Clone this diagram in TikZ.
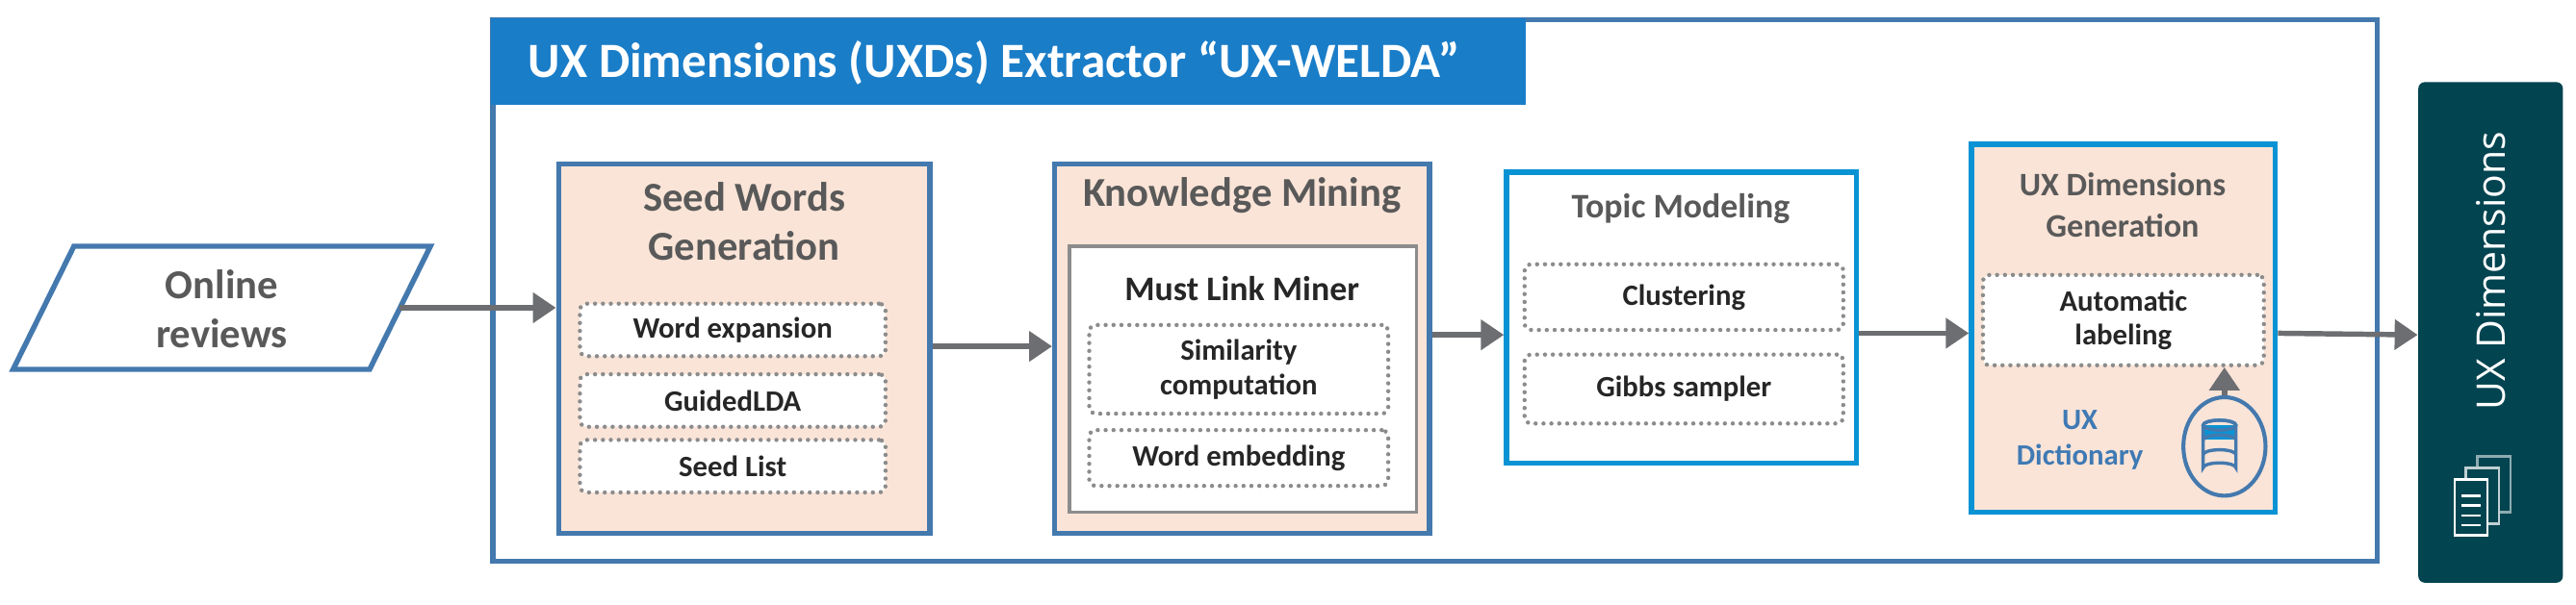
\documentclass[tikz,border=0pt]{standalone}
\usepackage{fontspec}
\setmainfont{Carlito}
\newfontfamily\osans{Open Sans}
\usetikzlibrary{arrows.meta,calc,shapes.geometric}
\definecolor{steel}{HTML}{4479AE}
\definecolor{bblue}{HTML}{0A93D4}
\definecolor{tbar}{HTML}{1A7DC8}
\definecolor{peach}{HTML}{FAE4D7}
\definecolor{agrey}{HTML}{6D6E71}
\definecolor{dgrey}{HTML}{8C8C8C}
\definecolor{ttext}{HTML}{595959}
\definecolor{itext}{HTML}{262626}
\definecolor{teal}{HTML}{024450}
\definecolor{dictblue}{HTML}{3F7AB4}
\tikzset{
  stage/.style={draw=steel,line width=1.6pt,fill=peach,inner sep=0pt},
  bstage/.style={draw=bblue,line width=1.6pt,inner sep=0pt},
  dot/.style={draw=dgrey,line width=1.3pt,line cap=round,dash pattern=on 0pt off 2.4pt,fill=white,rounded corners=2pt,inner sep=0pt,font=\bfseries\fontsize{9}{10.5}\selectfont,text=itext,align=center},
  ttl/.style={font=\bfseries\fontsize{12.5}{15}\selectfont,text=ttext,align=center},
  arr/.style={draw=agrey,line width=1.6pt,-{Triangle[length=7pt,width=9pt]}},
}
\begin{document}
\begin{tikzpicture}[x=0.5pt,y=-0.5pt]
\useasboundingbox (0,0) rectangle (1568,368);
% outer box
\node[draw=steel,line width=1.5pt,minimum width=573.5pt,minimum height=165pt,inner sep=0pt] (outer) at (873.5,177) {};
\node[fill=tbar,minimum width=315pt,minimum height=26.5pt,inner sep=0pt,anchor=north west] (bar) at (outer.north west) {};
\node[anchor=west,text=white,font=\bfseries\fontsize{15}{17}\selectfont] (bartext) at ($(bar.west)+(16,1)$) {UX Dimensions (UXDs) Extractor “UX-WELDA”};
% online reviews
\draw[steel,line width=1.6pt] (45,150) -- (262,150) -- (225,225) -- (8,225) -- cycle;
\node[font=\bfseries\fontsize{12.5}{15}\selectfont,text=ttext,align=center] (rev) at (135,188) {Online\\reviews};
\coordinate (revout) at (243,187.5);
% seed words
\node[stage,minimum width=113pt,minimum height=112.5pt] (seed) at (453,212.5) {};
\node[ttl] (seedt) at (453,135) {Seed Words\\Generation};
\node[dot,minimum width=93pt,minimum height=16pt] (we) at (446,201) {Word expansion};
\node[dot,minimum width=93pt,minimum height=16pt] (glda) at (446,244) {GuidedLDA};
\node[dot,minimum width=93pt,minimum height=16pt] (sl) at (446,284) {Seed List};
% knowledge mining
\node[stage,minimum width=114pt,minimum height=112.5pt] (km) at (756,212.5) {};
\node[ttl] (kmt) at (756,119) {Knowledge Mining};
\node[draw=dgrey,line width=0.9pt,fill=white,minimum width=105.5pt,minimum height=81pt,inner sep=0pt] (mlm) at (756.5,231) {};
\node[font=\bfseries\fontsize{10.5}{12}\selectfont,text=itext] (mlmt) at (756,176) {Must Link Miner};
\node[dot,minimum width=91pt,minimum height=27pt] (sim) at (754,225) {Similarity\\computation};
\node[dot,minimum width=91pt,minimum height=17pt] (emb) at (754,279) {Word embedding};
% topic modeling
\node[bstage,fill=white,minimum width=106.5pt,minimum height=88.5pt] (tm) at (1023.5,193.5) {};
\node[font=\bfseries\fontsize{10.5}{12}\selectfont,text=ttext] (tmt) at (1023,127) {Topic Modeling};
\node[dot,minimum width=97pt,minimum height=20pt] (clu) at (1025,181) {Clustering};
\node[dot,minimum width=97pt,minimum height=21pt] (gib) at (1025,237) {Gibbs sampler};
% UX dimensions generation
\node[bstage,fill=peach,minimum width=92.5pt,minimum height=112pt] (uxg) at (1292.5,200) {};
\node[font=\bfseries\fontsize{10}{12.5}\selectfont,text=ttext,align=center] (uxgt) at (1292,125) {UX Dimensions\\Generation};
\node[dot,minimum width=85.5pt,minimum height=27.5pt] (lab) at (1292.5,195) {Automatic\\labeling};
\node[font=\bfseries\fontsize{9}{11}\selectfont,text=dictblue,align=center] (dict) at (1266,268) {UX\\Dictionary};
\node[draw=steel,line width=1.2pt,ellipse,minimum width=25pt,minimum height=30pt,inner sep=0pt] (db) at (1354,272) {};
% database glyph
\begin{scope}[shift={(1351,272)}]
  \fill[bblue] (-10,-13) rectangle (10,-4);
  \draw[steel,line width=1pt] (-10,-13) arc[start angle=180,end angle=360,x radius=10,y radius=3];
  \draw[steel,line width=1pt] (0,-13) ellipse[x radius=10,y radius=3];
  \draw[steel,line width=1pt] (-10,-13) -- (-10,13) arc[start angle=180,end angle=360,x radius=10,y radius=3] -- (10,-13);
  \draw[steel,line width=1pt] (-10,-4) arc[start angle=180,end angle=360,x radius=10,y radius=3];
  \draw[steel,line width=1pt] (-10,5) arc[start angle=180,end angle=360,x radius=10,y radius=3];
\end{scope}
% right panel
\node[fill=teal,rounded corners=2pt,minimum width=44pt,minimum height=152.5pt,inner sep=0pt] (panel) at (1516,202.5) {};
\node[rotate=90,text=white,font=\osans\fontsize{12}{14}\selectfont] (paneltext) at (1516,165) {UX Dimensions};
\begin{scope}[shift={(1510,300)},line width=0.7pt]
  \draw[white!55!teal,fill=teal] (-2,-22) rectangle (18,12);
  \draw[white!75!teal,fill=teal] (-9,-15) rectangle (11,19);
  \draw[white,fill=teal] (-16,-8) rectangle (4,26);
  \foreach \yy in {2,8,14,20} \draw[white] (-12,\yy) -- (0,\yy);
\end{scope}
% connectors
\draw[arr] (revout) -- (seed.west |- revout);
\draw[arr] (seed.east |- 0,211) -- (km.west |- 0,211);
\draw[arr] (km.east |- 0,204) -- (tm.west |- 0,204);
\draw[arr] (tm.east |- 0,203) -- (uxg.west |- 0,203);
\draw[arr] (uxg.east |- 0,203) -- (panel.west |- 0,204);
\draw[arr] (db.north) -- (lab.south -| db.north);
\end{tikzpicture}
\end{document}
